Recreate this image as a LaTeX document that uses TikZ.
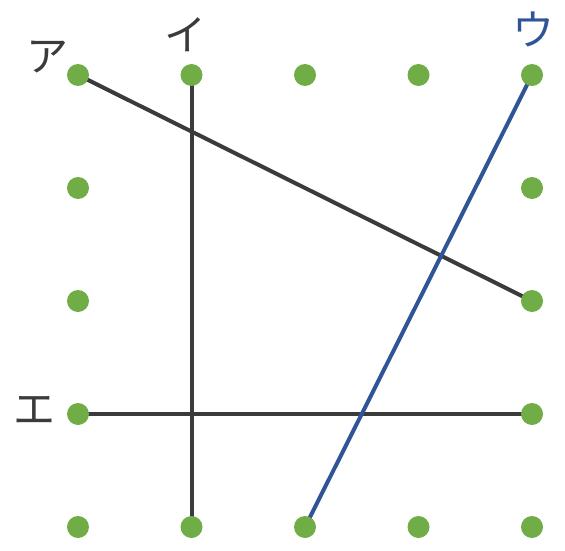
\documentclass[tikz,border=0pt]{standalone}
\usepackage{fontspec}
\newfontfamily\jpfont{Noto Sans CJK JP}
\definecolor{dotgreen}{HTML}{70AD47}
\definecolor{linegray}{HTML}{3B3B3B}
\definecolor{lineblue}{HTML}{2F5597}
\begin{document}
\begin{tikzpicture}[x=1pt,y=-1pt,
  gridline/.style={line width=4pt,color=linegray},
  blueline/.style={line width=4pt,color=lineblue},
  gdot/.style={circle,fill=dotgreen,inner sep=0pt,minimum size=22pt},
  lab/.style={font=\jpfont\fontsize{42}{42}\selectfont,text=linegray,inner sep=0pt}]
\useasboundingbox (0,0) rectangle (565,551);
\foreach \i/\x in {0/78,1/191.5,2/305,3/418.5,4/532}{
  \foreach \j/\y in {0/75,1/188,2/301,3/414,4/527}{
    \coordinate (p\i\j) at (\x,\y);
  }
}
\draw[gridline] (p00) -- (p42);
\draw[gridline] (p10) -- (p14);
\draw[gridline] (p03) -- (p43);
\draw[blueline] (p40) -- (p24);
\foreach \i in {0,...,4}{
  \node[gdot] (dt\i) at (p\i0) {};
  \node[gdot] (db\i) at (p\i4) {};
}
\foreach \j in {1,2,3}{
  \node[gdot] (dl\j) at (p0\j) {};
  \node[gdot] (dr\j) at (p4\j) {};
}
\node[lab] (la) at (47,57) {ア};
\node[lab] (li) at (185,35) {イ};
\node[lab,text=lineblue] (lu) at (533,29) {ウ};
\node[lab] (le) at (34,410) {エ};
\end{tikzpicture}
\end{document}
